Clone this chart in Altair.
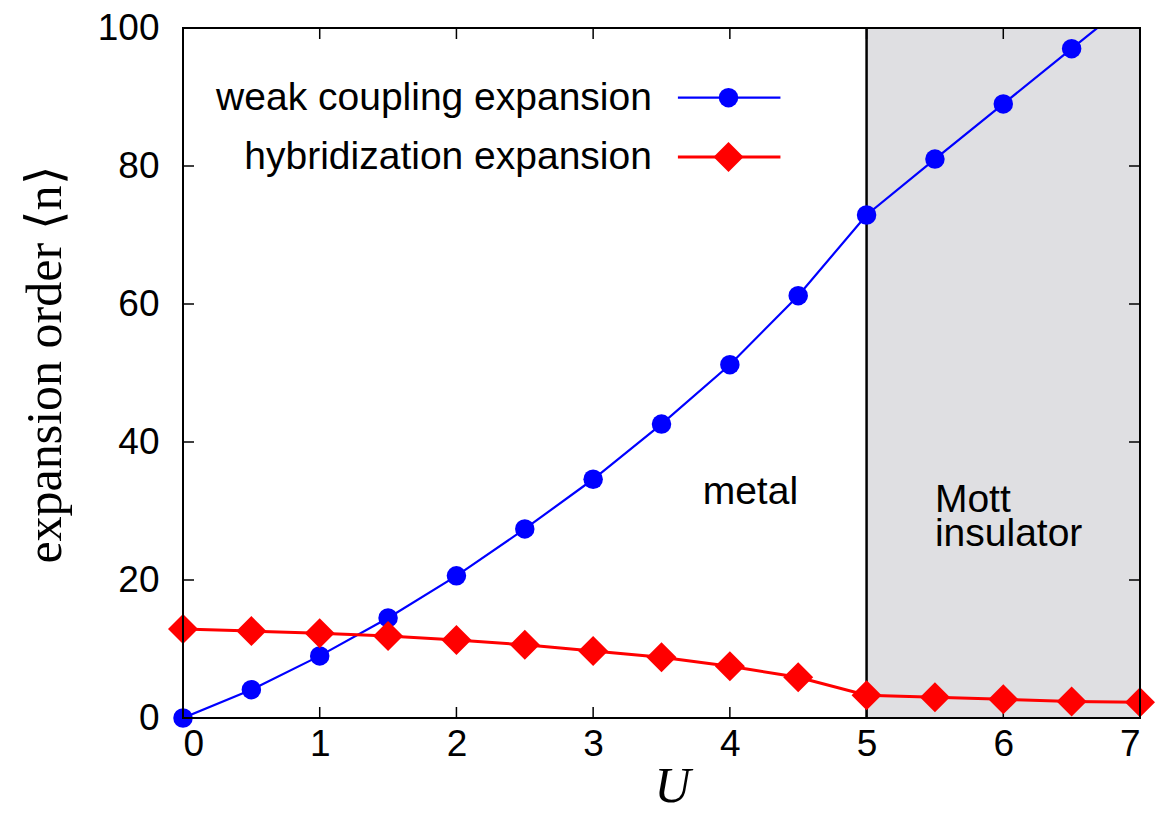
import altair as alt
import pandas as pd

# data
U = [0, 0.5, 1, 1.5, 2, 2.5, 3, 3.5, 4, 4.5, 5, 5.5, 6, 6.5, 7]
weak = [0, 4.1, 9.0, 14.5, 20.6, 27.4, 34.6, 42.6, 51.2, 61.2, 72.9, 81.0, 89.0, 97.0, 105.0]
hyb = [12.9, 12.6, 12.3, 11.9, 11.3, 10.6, 9.7, 8.8, 7.5, 5.9, 3.3, 3.0, 2.7, 2.4, 2.3]

x_ticks = [1, 2, 3, 4, 5, 6]
y_ticks = [20, 40, 60, 80]

region_start = [5]
region_end = [7]

labels_names = ["weak coupling expansion", "hybridization expansion"]
legend_y = [89.9, 81.3]
legend_text_x = 3.43
legend_line_x = [3.62, 4.37]
legend_mark_x = 3.99

W, H = 957, 690
SANS = "Liberation Sans"
SERIF = "Liberation Serif"
TXT = 39

df_w = pd.DataFrame({"U": U, "n": weak})
df_h = pd.DataFrame({"U": U, "n": hyb})

xs = alt.Scale(domain=[0, 7], nice=False, zero=False)
ys = alt.Scale(domain=[0, 100], nice=False, zero=False)

x_axis = alt.Axis(values=list(range(0, 8)), format="d", tickSize=0, domain=False, grid=False,
                  labelFont=SANS, labelFontSize=37, labelColor="black", labelPadding=8,
                  title="U", titleFont=SERIF, titleFontStyle="italic", titleFontWeight="normal",
                  titleFontSize=50, titleColor="black", titleX=489, titleY=83,
                  titleBaseline="alphabetic", titleAlign="center")
y_axis = alt.Axis(values=[0, 20, 40, 60, 80, 100], format="d", tickSize=0, domain=False, grid=False,
                  labelFont=SANS, labelFontSize=37, labelColor="black", labelPadding=24,
                  title="expansion order ⟨n⟩", titleFont=SERIF, titleFontWeight="normal",
                  titleFontSize=50, titleColor="black", titleAngle=270, titleX=-123, titleY=336,
                  titleBaseline="alphabetic", titleAlign="center")

region = alt.Chart(pd.DataFrame({"a": region_start, "b": region_end, "lo": [0], "hi": [100]})).mark_rect(
    color="#dfdfe2").encode(
    x=alt.X("a:Q", scale=xs, axis=x_axis),
    x2="b:Q",
    y=alt.Y("lo:Q", scale=ys, axis=y_axis),
    y2="hi:Q",
)

vline = alt.Chart(pd.DataFrame({"a": region_start, "lo": [0], "hi": [100]})).mark_rule(
    color="black", strokeWidth=2.5).encode(
    x=alt.X("a:Q", scale=xs), y=alt.Y("lo:Q", scale=ys), y2="hi:Q")

blue_line = alt.Chart(df_w).mark_line(color="#0000ff", strokeWidth=2.2, clip=True).encode(
    x=alt.X("U:Q", scale=xs), y=alt.Y("n:Q", scale=ys))
blue_pts = alt.Chart(df_w).transform_filter("datum.n <= 100").mark_point(
    shape="circle", filled=True, color="#0000ff", size=380, opacity=1).encode(
    x=alt.X("U:Q", scale=xs), y=alt.Y("n:Q", scale=ys))
red_line = alt.Chart(df_h).mark_line(color="#ff0000", strokeWidth=3).encode(
    x=alt.X("U:Q", scale=xs), y=alt.Y("n:Q", scale=ys))
red_pts = alt.Chart(df_h).mark_point(
    shape="diamond", filled=True, color="#ff0000", size=900, opacity=1).encode(
    x=alt.X("U:Q", scale=xs), y=alt.Y("n:Q", scale=ys))

# region labels
metal_text = alt.Chart(pd.DataFrame({"t": ["metal"], "x": [4.15], "y": [31.0]})).mark_text(
    font=SANS, fontSize=TXT, color="black", baseline="alphabetic", align="center").encode(
    x=alt.X("x:Q", scale=xs), y=alt.Y("y:Q", scale=ys), text="t:N")
mott_text = alt.Chart(pd.DataFrame({"t": ["Mott", "insulator"], "x": [5.5, 5.5],
                                    "y": [29.8, 24.9]})).mark_text(
    font=SANS, fontSize=TXT, color="black", baseline="alphabetic", align="left").encode(
    x=alt.X("x:Q", scale=xs), y=alt.Y("y:Q", scale=ys), text="t:N")

# legend
leg_df = pd.DataFrame({"name": labels_names, "y": legend_y, "tx": [legend_text_x] * 2,
                       "x1": [legend_line_x[0]] * 2, "x2": [legend_line_x[1]] * 2,
                       "mx": [legend_mark_x] * 2})
leg_text = alt.Chart(leg_df).mark_text(font=SANS, fontSize=TXT, color="black", align="right",
                                       baseline="middle").encode(
    x=alt.X("tx:Q", scale=xs), y=alt.Y("y:Q", scale=ys), text="name:N")
leg_blue_line = alt.Chart(leg_df.iloc[[0]]).mark_rule(color="#0000ff", strokeWidth=2.2).encode(
    x=alt.X("x1:Q", scale=xs), x2="x2:Q", y=alt.Y("y:Q", scale=ys))
leg_red_line = alt.Chart(leg_df.iloc[[1]]).mark_rule(color="#ff0000", strokeWidth=3).encode(
    x=alt.X("x1:Q", scale=xs), x2="x2:Q", y=alt.Y("y:Q", scale=ys))
leg_blue_pt = alt.Chart(leg_df.iloc[[0]]).mark_point(shape="circle", filled=True, color="#0000ff",
                                                     size=380, opacity=1).encode(
    x=alt.X("mx:Q", scale=xs), y=alt.Y("y:Q", scale=ys))
leg_red_pt = alt.Chart(leg_df.iloc[[1]]).mark_point(shape="diamond", filled=True, color="#ff0000",
                                                    size=900, opacity=1).encode(
    x=alt.X("mx:Q", scale=xs), y=alt.Y("y:Q", scale=ys))

# inward ticks on all four sides
TL = 11
xt = pd.DataFrame({"v": x_ticks})
yt = pd.DataFrame({"v": y_ticks})
tick_bottom = alt.Chart(xt).mark_rule(color="black", strokeWidth=1.5).encode(
    x=alt.X("v:Q", scale=xs), y=alt.value(H), y2=alt.value(H - TL))
tick_top = alt.Chart(xt).mark_rule(color="black", strokeWidth=1.5).encode(
    x=alt.X("v:Q", scale=xs), y=alt.value(0), y2=alt.value(TL))
tick_left = alt.Chart(yt).mark_rule(color="black", strokeWidth=1.5).encode(
    y=alt.Y("v:Q", scale=ys), x=alt.value(0), x2=alt.value(TL))
tick_right = alt.Chart(yt).mark_rule(color="black", strokeWidth=1.5).encode(
    y=alt.Y("v:Q", scale=ys), x=alt.value(W), x2=alt.value(W - TL))

frame = alt.Chart(pd.DataFrame({"d": [0]})).mark_rect(fill=None, stroke="black", strokeWidth=2).encode(
    x=alt.value(0), x2=alt.value(W), y=alt.value(0), y2=alt.value(H))

chart = alt.layer(
    region, vline, tick_bottom, tick_top, tick_left, tick_right,
    blue_line, blue_pts, red_line, red_pts,
    metal_text, mott_text, leg_text, leg_blue_line, leg_red_line, leg_blue_pt, leg_red_pt,
    frame,
).properties(
    width=W, height=H,
    background="white",
    autosize=alt.AutoSizeParams(type="none"),
    padding={"left": 175, "top": 20, "right": 20, "bottom": 94},
).configure_view(stroke=None)

chart.save("out.html", embed_options={"renderer": "svg", "actions": False})
